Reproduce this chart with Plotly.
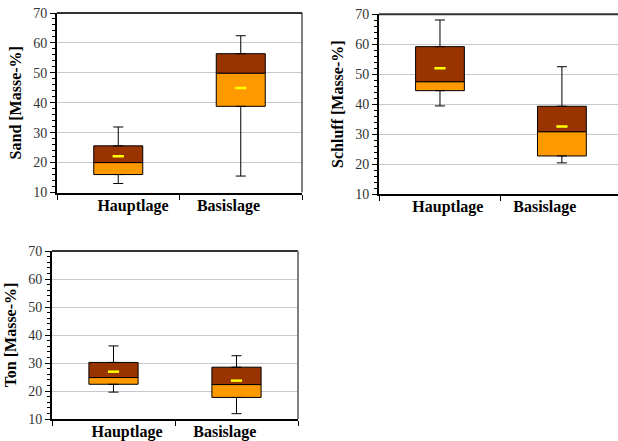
import plotly.graph_objects as go

categories = ["Hauptlage", "Basislage"]
y_ticks = [10, 20, 30, 40, 50, 60, 70]

sand_low = [13.0, 15.5]
sand_q1 = [16.0, 38.8]
sand_med = [20.0, 49.9]
sand_q3 = [25.6, 56.4]
sand_high = [31.9, 62.4]
sand_mean = [22.1, 44.9]

schluff_low = [39.4, 20.4]
schluff_q1 = [44.5, 22.7]
schluff_med = [47.5, 30.8]
schluff_q3 = [59.2, 39.3]
schluff_high = [68.1, 52.5]
schluff_mean = [52.0, 32.5]

ton_low = [19.6, 11.9]
ton_q1 = [22.4, 17.7]
ton_med = [24.8, 22.3]
ton_q3 = [30.2, 28.5]
ton_high = [36.1, 32.6]
ton_mean = [26.9, 23.7]

panels = [
    ("Sand [Masse-%]", sand_low, sand_q1, sand_med, sand_q3, sand_high, sand_mean),
    ("Schluff [Masse-%]", schluff_low, schluff_q1, schluff_med, schluff_q3, schluff_high, schluff_mean),
    ("Ton [Masse-%]", ton_low, ton_q1, ton_med, ton_q3, ton_high, ton_mean),
]

W, H = 618, 441
# window-pixel geometry: (left, right, top, bottom, xrange_max, right_border_color, label offsets)
geom = [
    (57, 302, 13, 192.5, 1.5, "#000000", (0.12, -0.10)),
    (379, 618, 14.3, 194, 1.46, None, (0.065, -0.14)),
    (52, 298, 251, 419, 1.5, "#808080", (0.11, -0.095)),
]

FONT = "Times New Roman, Liberation Serif, serif"
ORANGE = "#FF9900"
BROWN = "#993300"

fig = go.Figure()
xs = [0, 1]
layout = {}
shapes = []
for i, ((title, lo, q1, med, q3, hi, mean), (l, r, t, b, xmax, rb, lofs)) in enumerate(zip(panels, geom)):
    n = "" if i == 0 else str(i + 1)
    xa, ya = "x" + n, "y" + n
    fig.add_trace(go.Bar(x=xs, y=[m - a for m, a in zip(med, q1)], base=q1, width=0.4,
                         marker=dict(color=ORANGE, line=dict(color="black", width=1)),
                         xaxis=xa, yaxis=ya, showlegend=False))
    fig.add_trace(go.Bar(x=xs, y=[c - m for c, m in zip(q3, med)], base=med, width=0.4,
                         marker=dict(color=BROWN, line=dict(color="black", width=1)),
                         xaxis=xa, yaxis=ya, showlegend=False))
    fig.add_trace(go.Scatter(x=xs, y=q3, mode="markers",
                             marker=dict(size=1, color="rgba(0,0,0,0)"),
                             error_y=dict(type="data", symmetric=False,
                                          array=[h - c for h, c in zip(hi, q3)],
                                          arrayminus=[0, 0], color="black", thickness=1, width=5),
                             xaxis=xa, yaxis=ya, showlegend=False))
    fig.add_trace(go.Scatter(x=xs, y=q1, mode="markers",
                             marker=dict(size=1, color="rgba(0,0,0,0)"),
                             error_y=dict(type="data", symmetric=False,
                                          array=[0, 0],
                                          arrayminus=[a - w for a, w in zip(q1, lo)],
                                          color="black", thickness=1, width=5),
                             xaxis=xa, yaxis=ya, showlegend=False))
    fig.add_trace(go.Scatter(x=xs, y=mean, mode="markers",
                             marker=dict(symbol="line-ew", size=8,
                                         line=dict(color="#FFFF00", width=2.5)),
                             xaxis=xa, yaxis=ya, showlegend=False))
    layout["xaxis" + n] = dict(
        domain=[l / W, min(r / W, 1)], range=[-0.5, xmax], anchor=ya,
        tickvals=[x + o for x, o in zip(xs, lofs)], ticktext=categories, ticks="",
        ticklabelstandoff=-3,
        showgrid=False, zeroline=False,
        showline=True, linecolor="black", linewidth=2,
        tickfont=dict(family=FONT, size=16, color="black", weight="bold"),
        minor=dict(tick0=-0.5, dtick=1, ticks="outside", ticklen=5, tickcolor="black", tickwidth=1),
    )
    layout["yaxis" + n] = dict(
        domain=[1 - b / H, 1 - t / H], range=[10, 70], anchor=xa,
        tickvals=y_ticks, ticks="outside", ticklen=5, tickcolor="black", tickwidth=1,
        showgrid=True, gridcolor="#C8C8C8", gridwidth=1, zeroline=False,
        showline=True, linecolor="black", linewidth=2,
        tickfont=dict(family=FONT, size=14, color="#333333"),
        minor=dict(dtick=2, ticks="outside", ticklen=3, tickcolor="black", tickwidth=1, showgrid=False),
        title=dict(text=title, font=dict(family=FONT, size=16, color="black", weight="bold"), standoff=8),
    )
    shapes.append(dict(type="line", xref=xa + " domain", yref=ya + " domain", x0=0, x1=1, y0=1, y1=1,
                       line=dict(color="#333333", width=2), layer="above"))
    if rb:
        shapes.append(dict(type="line", xref=xa + " domain", yref=ya + " domain", x0=1, x1=1, y0=0, y1=1,
                           line=dict(color=rb, width=1 if rb == "#000000" else 2), layer="above"))

fig.update_layout(
    width=W, height=H, margin=dict(l=0, r=0, t=0, b=0, autoexpand=False),
    paper_bgcolor="white", plot_bgcolor="white", barmode="overlay",
    font=dict(family=FONT),
    shapes=shapes, **layout,
)
fig.write_html("out.html", config={"displayModeBar": False},
               post_script="document.body.style.margin='0px';document.body.style.overflow='hidden';")
